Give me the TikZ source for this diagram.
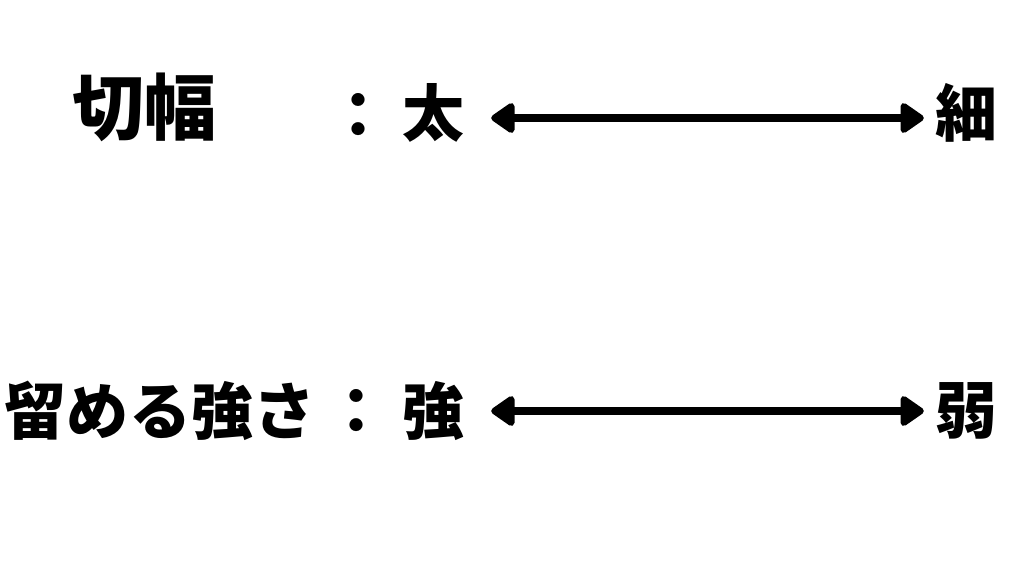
\documentclass[tikz,border=0pt]{standalone}
\usepackage{fontspec}
\newfontfamily\cjk{Noto Sans CJK JP}
\usetikzlibrary{arrows.meta}
\begin{document}
\begin{tikzpicture}[x=1pt,y=-1pt,
	big word/.style={font=\cjk\bfseries\fontsize{72}{72}\selectfont,inner sep=0pt},
	word/.style={font=\cjk\bfseries\fontsize{62}{62}\selectfont,inner sep=0pt},
	scale arrow/.style={line width=8pt,
		{Triangle[length=26pt,width=34pt,round]}-{Triangle[length=26pt,width=34pt,round]},
		shorten <=27pt,shorten >=11pt}]
	\useasboundingbox (0,0) rectangle (1024,576);
	
	% upper row
	\node[big word] (haba) at (144,107) {切幅};
	\node[word] (colA) at (358,115) {：};
	\node[word] (futo) at (433,113) {太};
	\node[word] (hoso) at (966,113) {細};
	
	% lower row
	\node[word] (tomeru) at (160,411) {留める強さ};
	\node[word] (colB) at (356,411) {：};
	\node[word] (tsuyo) at (433,411) {強};
	\node[word] (yowa) at (966,411) {弱};
	
	\draw[scale arrow] ([yshift=-5pt]futo.east) -- ([yshift=-5pt]hoso.west);
	\draw[scale arrow] (tsuyo) -- (yowa);
\end{tikzpicture}
\end{document}
